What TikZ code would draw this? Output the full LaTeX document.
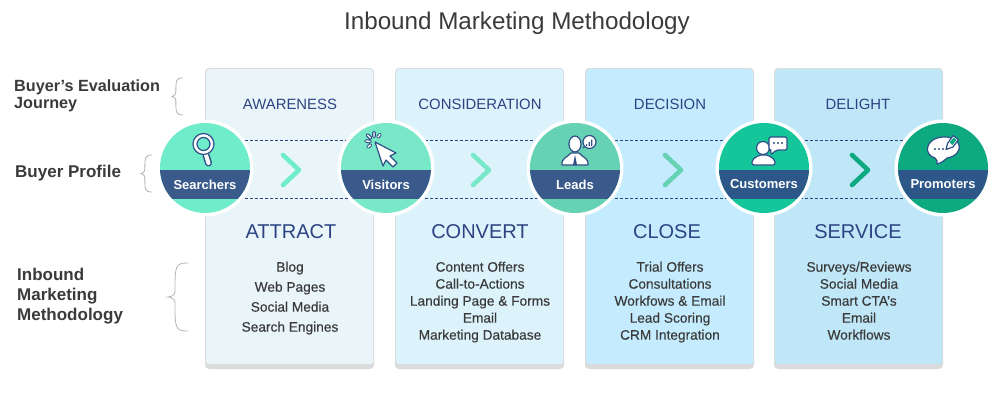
\documentclass[tikz,border=0pt]{standalone}
\usepackage{fontspec}
\setmainfont{Liberation Sans}
\usetikzlibrary{positioning}
\definecolor{navy}{HTML}{2D4383}
\definecolor{inkgray}{HTML}{3A3A3A}
\definecolor{bracegray}{HTML}{B4B4B4}
\definecolor{edgegray}{HTML}{DADBDC}
\definecolor{bandA}{HTML}{3A5A8C}
\definecolor{bandB}{HTML}{2C5788}
\definecolor{iconblue}{HTML}{2F4F86}
\definecolor{panelA}{HTML}{EAF5F9}
\definecolor{panelB}{HTML}{DDF3FC}
\definecolor{panelC}{HTML}{C5ECFE}
\definecolor{panelD}{HTML}{C0E7F7}
\definecolor{mintA}{HTML}{6FEDCB}
\definecolor{mintB}{HTML}{78E8C8}
\definecolor{mintC}{HTML}{66D2B4}
\definecolor{mintD}{HTML}{14C699}
\definecolor{mintE}{HTML}{0DAA82}
\tikzset{
  titletext/.style={font=\fontsize{24.2}{28}\selectfont, text=inkgray},
  sidetext/.style={font=\fontsize{16.2}{20}\selectfont\bfseries, text=inkgray, align=left, anchor=west, inner sep=0pt},
  sidebig/.style={sidetext, font=\fontsize{17}{20}\selectfont\bfseries},
  stagetext/.style={font=\fontsize{14.9}{16}\selectfont, text=navy},
  headtext/.style={font=\fontsize{20}{24}\selectfont, text=navy},
  listtext/.style={font=\fontsize{13.7}{17}\selectfont\addfontfeature{FakeBold=0.25}, text=inkgray, align=center, anchor=north},
  bandtext/.style={font=\fontsize{13}{15}\selectfont\bfseries, text=white},
  dashline/.style={draw=navy, densely dashed, line width=0.7pt},
  bracket/.style={draw=bracegray, line width=0.8pt},
  chevron/.style={line width=4.6pt, line cap=round, line join=round},
  iconline/.style={draw=iconblue, fill=white, line width=1.2pt, line join=round}
}
% panel: name, left, right, colour
\newcommand{\panel}[4]{
  \fill[edgegray, rounded corners=4pt] (#2,68) rectangle (#3,369);
  \node[fill=#4, inner sep=0pt, rounded corners=3pt, minimum width=#3-#2-2, minimum height=295, anchor=north west] (#1) at (#2+1,69) {};
}
% profile circle: name, centre x, colour, band colour, label
\newcommand{\profile}[5]{
  \node[circle, fill=white, inner sep=0pt, minimum size=97] (#1) at (#2,168) {};
  \fill[#3] (#2,168) circle (45);
  \begin{scope}
    \clip (#2,168) circle (45);
    \fill[#4] (#2-46,170) rectangle (#2+46,199);
  \end{scope}
  \node[bandtext] (#1label) at (#2,184.5) {#5};
}
% left curly mark: tip x, end x, top y, bottom y
\newcommand{\curly}[4]{
  \draw[bracket] (#2,#3) .. controls ({#1+0.35*(#2-#1)},#3) and ({#1+0.35*(#2-#1)},#3+3) .. ({#1+0.35*(#2-#1)},{(#3+#4)/2-5})
    .. controls ({#1+0.35*(#2-#1)},{(#3+#4)/2-1}) and (#1+1,{(#3+#4)/2}) .. (#1,{(#3+#4)/2})
    .. controls (#1+1,{(#3+#4)/2}) and ({#1+0.35*(#2-#1)},{(#3+#4)/2+1}) .. ({#1+0.35*(#2-#1)},{(#3+#4)/2+5})
    .. controls ({#1+0.35*(#2-#1)},#4-3) and ({#1+0.35*(#2-#1)},#4) .. (#2,#4);
}
\begin{document}
\begin{tikzpicture}[x=1pt, y=-1pt]
\useasboundingbox (0,0) rectangle (999,407);

\node[titletext] (title) at (517,23.5) {Inbound Marketing Methodology};

\panel{awareness}{205}{374}{panelA}
\panel{consideration}{395}{564}{panelB}
\panel{decision}{585}{754}{panelC}
\panel{delight}{774}{943}{panelD}

\node[sidetext] (journey) at (14,96) {Buyer’s Evaluation\\[-3pt]Journey};
\node[sidebig] (buyer) at (15,173) {Buyer Profile};
\node[sidebig] (method) at (17,296) {Inbound\\Marketing\\Methodology};
\curly{172}{183}{78}{115}
\curly{141}{152}{155}{192}
\curly{168}{188}{263}{331}

\node[stagetext] (s1) at (290,104) {AWARENESS};
\node[stagetext] (s2) at (480,104) {CONSIDERATION};
\node[stagetext] (s3) at (670,104) {DECISION};
\node[stagetext] (s4) at (858,104) {DELIGHT};

\coordinate (topA) at (205,140);
\coordinate (topB) at (943,140);
\coordinate (lowA) at (205,198);
\coordinate (lowB) at (943,198);
\draw
	(topA) edge[dashline] (topB)
	(lowA) edge[dashline] (lowB)
;

\draw[chevron, mintA] (283,155) -- (299,170) -- (283,185);
\draw[chevron, mintB] (473,155) -- (489,170) -- (473,185);
\draw[chevron, mintC] (665,155) -- (681,170) -- (665,185);
\draw[chevron, mintE] (852,155) -- (868,170) -- (852,185);

\profile{searchers}{205}{mintA}{bandA}{Searchers}
\profile{visitors}{386}{mintB}{bandA}{Visitors}
\profile{leads}{575}{mintC}{bandA}{Leads}
\profile{customers}{764}{mintD}{bandB}{Customers}
\profile{promoters}{943}{mintE}{bandB}{Promoters}

% magnifier
\draw[iconblue, line width=7pt, line cap=round] (206,155) -- (208.5,163);
\draw[white, line width=4pt, line cap=round] (206,155) -- (208.5,163);
\draw[iconline, fill=white] (203.5,144) circle (10.5);
\draw[iconline, fill=mintA] (203.5,144) circle (6.5);

% cursor
\draw[iconline] (375,142) -- (396,153) -- (390,156) -- (397,163) -- (393,167) -- (386,160) -- (383,166) -- cycle;
\draw[iconblue, line width=3.6pt, line cap=round] (366,141) -- (370,141.5) (367.5,135) -- (370.5,138) (374,132.5) -- (374,136.5) (380,134.5) -- (378,137) (368,147) -- (370.5,145);
\draw[white, line width=1.4pt, line cap=round] (366,141) -- (370,141.5) (367.5,135) -- (370.5,138) (374,132.5) -- (374,136.5) (380,134.5) -- (378,137) (368,147) -- (370.5,145);

% lead bust
\draw[iconline] (562,165) .. controls (561,158) and (568,157) .. (571,153) -- (579,153)
  .. controls (582,157) and (589,158) .. (588,165) -- cycle;
\draw[iconline] (575,144) ellipse (6 and 8);
\fill[iconblue] (575,155) -- (577,165) -- (573,165) -- cycle;
\draw[iconline] (583,148) -- (585,146) (589.5,142) circle (6.5);
\fill[iconblue] (586,144) rectangle (587.2,146) (588.6,142) rectangle (589.8,146) (591.2,139.5) rectangle (592.4,146);

% customer with bubble
\draw[iconline, rounded corners=2pt] (752,165) -- (752,160) -- (759,155) -- (768,155) -- (775,160) -- (775,165) -- cycle;
\draw[iconline] (763,148) circle (6.5);
\draw[iconline, rounded corners=2pt] (769,137) -- (787,137) -- (787,150) -- (776,150) -- (771,155) -- (771,150) -- (769,150) -- cycle;
\fill[iconblue] (774,143) circle (1.1) (778,143) circle (1.1) (782,143) circle (1.1);

% promoter bubble and pencil
\draw[iconline] (935,158) .. controls (923,155) and (925,138) .. (943,137)
  .. controls (963,136) and (965,155) .. (947,158) .. controls (944,161) and (941,163) .. (937,164) .. controls (938,162) and (937,160) .. (935,158) -- cycle;
\fill[iconblue] (935,149) circle (1.2) (939,149) circle (1.2) (943,149) circle (1.2);
\draw[iconline] (946,149.5) -- (947.5,143.5) -- (953,135.5) -- (958.5,139.5) -- (953,147) -- cycle;
\fill[mintE] (949.5,142.5) -- (953.5,137.5) -- (956.5,139.8) -- (952.5,145) -- cycle;

\node[headtext] (attract) at (291,231.5) {ATTRACT};
\node[headtext] (convert) at (480,231.5) {CONVERT};
\node[headtext] (close) at (667,231.5) {CLOSE};
\node[headtext] (service) at (858,231.5) {SERVICE};

\node[listtext] (l1) at (290,258.2) {Blog\\[3pt]Web Pages\\[3pt]Social Media\\[3pt]Search Engines};
\node[listtext] (l2) at (480,258.2) {Content Offers\\Call-to-Actions\\Landing Page \& Forms\\Email\\Marketing Database};
\node[listtext] (l3) at (670,258.2) {Trial Offers\\Consultations\\Workfows \& Email\\Lead Scoring\\CRM Integration};
\node[listtext] (l4) at (859,258.2) {Surveys/Reviews\\Social Media\\Smart CTA’s\\Email\\Workflows};
\end{tikzpicture}
\end{document}
